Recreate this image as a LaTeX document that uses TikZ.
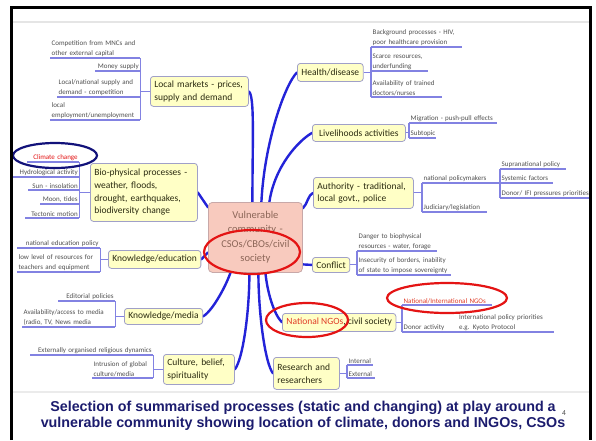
\documentclass[tikz,border=0pt]{standalone}
\usepackage{fontspec}
\setmainfont{Carlito}
\newfontfamily\capfont{Liberation Sans}
\usetikzlibrary{shapes.geometric}
\definecolor{topicfill}{HTML}{FFFFC6}
\definecolor{topicdraw}{HTML}{A0A0C8}
\definecolor{topictext}{HTML}{2A2A10}
\definecolor{centerfill}{HTML}{F8CABE}
\definecolor{centerdraw}{HTML}{C8A8A8}
\definecolor{centertext}{HTML}{8C6658}
\definecolor{connblue}{HTML}{2323D8}
\definecolor{subblue}{HTML}{8282E2}
\definecolor{subtext}{HTML}{505050}
\definecolor{ringred}{HTML}{E41414}
\definecolor{ringnavy}{HTML}{12127A}
\definecolor{captext}{HTML}{1C1C6E}
\definecolor{ngored}{HTML}{E03C28}
\pgfdeclarelayer{bg}
\pgfsetlayers{bg,main}
\begin{document}
\begin{tikzpicture}[x=1pt,y=-1pt,
 topic/.style={draw=topicdraw, fill=topicfill, line width=0.8pt, rounded corners=3pt, inner xsep=4pt, inner ysep=1pt, anchor=north west, align=left, text=topictext, font=\fontsize{9.5}{12.7}\selectfont},
 subline/.style={draw=subblue, line width=1.1pt},
 sub/.style={inner xsep=1.5pt, inner ysep=1pt, anchor=south west, text=subtext, font=\fontsize{7}{10}\selectfont, append after command={(\tikzlastnode.south west) edge[subline] (\tikzlastnode.south east)}},
 conn/.style={draw=connblue, line width=2.4pt, line cap=round},
 ring/.style={draw=ringred, line width=2.2pt, ellipse, inner sep=0pt},
]
\useasboundingbox (0,0) rectangle (596,440);

% main topics
\node[topic, text width=90pt, minimum height=30pt] (local) at (150,76) {Local markets - prices,\\supply and demand};
\node[topic, minimum width=65pt, minimum height=18pt, align=center] (health) at (297,63) {Health/disease};
\node[topic, minimum width=93pt, minimum height=17pt, align=center] (liveli) at (312,124) {Livelihoods activities};
\node[topic, text width=92pt, minimum height=31pt] (auth) at (313,177) {Authority - traditional,\\local govt., police};
\node[topic, text width=99pt, minimum height=58pt] (bio) at (90,163) {Bio-physical processes -\\weather, floods,\\drought, earthquakes,\\biodiversity change};
\node[topic, minimum width=92pt, minimum height=18pt, align=center] (kedu) at (108,250) {Knowledge/education};
\node[topic, minimum width=34pt, minimum height=15pt, align=center] (conflict) at (312,257) {Conflict};
\node[topic, minimum width=73pt, minimum height=16pt, align=center] (kmedia) at (124,308) {Knowledge/media};
\node[topic, minimum width=110pt, minimum height=18pt, align=center] (ngo) at (282,313) {\textcolor{ngored}{National NGOs}, civil society};
\node[topic, text width=63pt, minimum height=30pt] (culture) at (163,354) {Culture, belief,\\spirituality};
\node[topic, text width=58pt, minimum height=32pt] (research) at (273,357) {Research and\\researchers};
\node[draw=centerdraw, fill=centerfill, line width=0.8pt, rounded corners=4pt, anchor=north west, text width=86pt, inner xsep=4pt, align=center, minimum height=70pt, text=centertext, font=\fontsize{10.5}{14.5}\selectfont] (center) at (208,202) {Vulnerable\\community -\\CSOs/CBOs/civil\\society};

% main connectors (behind the nodes)
\begin{pgfonlayer}{bg}
\fill[white] (0,0) rectangle (596,440);
\draw[conn] (local.east) .. controls +(6,4) and +(0,-60) .. ([xshift=-3pt]center.north);
\draw[conn] (health.west) .. controls +(-12,12) and +(3,-60) .. ([xshift=6pt]center.north);
\draw[conn] (liveli.west) .. controls +(-14,8) and +(5,-35) .. ([xshift=14pt]center.north);
\draw[conn] (auth.west) .. controls +(-5,2) and +(5,-5) .. ([yshift=29pt]center.east);
\draw[conn] (conflict.west) -- ([yshift=-27pt]center.east);
\draw[conn] (ngo.west) .. controls +(-8,-8) and +(2,20) .. ([xshift=10pt]center.south);
\draw[conn] (research.west) .. controls +(-8,-10) and +(0,40) .. ([xshift=3pt]center.south);
\draw[conn] (culture.east) .. controls +(8,-10) and +(0,40) .. ([xshift=-6pt]center.south);
\draw[conn] (kmedia.east) .. controls +(10,-6) and +(-4,12) .. ([xshift=-25pt]center.south);
\draw[conn] (kedu.east) -- ([yshift=-15pt]center.west);
\draw[conn] (bio.east) -- ([yshift=30pt]center.west);
\end{pgfonlayer}

% local markets
\node[sub, text width=87pt, align=left] (m1) at (50,58) {Competition from MNCs and\\other external capital};
\node[sub, text width=42pt, align=right] (m2) at (95,71) {Money supply};
\node[sub, text width=80pt, align=left] (m3) at (57,97) {Local/national supply and\\demand - competition};
\node[sub, text width=87pt, align=left] (m4) at (50,120) {local\\employment/unemployment};
\draw[subline] (m1.south east) -- (m4.south east);
\draw[subline] (local.west) -- (local.west -| m1.south east);

% health
\node[sub, text width=88pt, align=left] (h1) at (371,47) {Background processes - HIV,\\poor healthcare provision};
\node[sub, text width=54pt, align=left] (h2) at (371,71) {Scarce resources,\\underfunding};
\node[sub, text width=68pt, align=left] (h3) at (371,97) {Availability of trained\\doctors/nurses};
\draw[subline] (h1.south west) -- (h3.south west);
\draw[subline] (health.east) -- (health.east -| h1.south west);

% livelihoods
\node[sub, text width=85pt, align=left] (l1) at (409,123) {Migration - push-pull effects};
\node[sub, text width=24pt, align=left] (l2) at (409,138) {Subtopic};
\draw[subline] (l1.south west) -- (l2.south west);
\draw[subline] (liveli.east) -- (liveli.east -| l1.south west);

% authority
\node[sub, text width=75pt, align=left] (a1) at (422,183) {national policymakers};
\node[sub, text width=62pt, align=left] (a2) at (422,212) {Judiciary/legislation};
\node[sub, text width=63pt, align=left] (a11) at (500,169) {Supranational policy};
\node[sub, text width=50pt, align=left] (a12) at (500,183) {Systemic factors};
\node[sub, text width=88pt, align=left] (a13) at (500,198) {Donor/ IFI pressures priorities};
\draw[subline] (a1.south west) -- (a2.south west);
\draw[subline] (a11.south west) -- (a13.south west);
\draw[subline] (auth.east) -- (auth.east -| a1.south west);

% conflict
\node[sub, text width=77pt, align=left] (c1) at (357,251) {Danger to biophysical\\resources - water, forage};
\node[sub, text width=91pt, align=left] (c2) at (357,275) {Insecurity of borders, inability\\of state to impose sovereignty};
\draw[subline] (c1.south west) -- (c2.south west);
\draw[subline] (conflict.east) -- (conflict.east -| c1.south west);

% NGOs
\node[sub, text width=87pt, align=left, text=ngored] (n1) at (402,305) {National/International NGOs};
\node[sub, text width=52pt, align=left] (n2) at (402,332) {Donor activity};
\node[sub, text width=93pt, align=left] (n3) at (n2.south east) {International policy priorities\\e.g. Kyoto Protocol};
\draw[subline] (n1.south west) -- (n2.south west);
\draw[subline] (ngo.east) -- (ngo.east -| n1.south west);

% research
\node[sub, text width=23pt, align=left] (r1) at (347,365) {Internal};
\node[sub, text width=25pt, align=left] (r2) at (347,378) {External};
\draw[subline] (r1.south west) -- (r2.south west);
\draw[subline] (research.east) -- (research.east -| r1.south west);

% bio-physical
\node[sub, text width=49pt, align=right, text=ringred] (b1) at (27,162) {Climate change};
\node[sub, text width=63pt, align=right] (b2) at (13,177) {Hydrological activity};
\node[sub, text width=48pt, align=right] (b3) at (28,190) {Sun - insolation};
\node[sub, text width=36pt, align=right] (b4) at (40,204) {Moon, tides};
\node[sub, text width=51pt, align=right] (b5) at (25,218) {Tectonic motion};
\draw[subline] (b1.south east) -- (b5.south east);
\draw[subline] (bio.west) -- (bio.west -| b1.south east);

% knowledge/education
\node[sub, text width=80pt, align=right] (e1) at (17,248) {national education policy};
\node[sub, text width=80pt, align=left] (e2) at (17,272) {low level of resources for\\teachers and equipment};
\draw[subline] (e1.south east) -- (e2.south east);
\draw[subline] (kedu.west) -- (kedu.west -| e1.south east);

% knowledge/media
\node[sub, text width=54pt, align=right] (k1) at (58,301) {Editorial policies};
\node[sub, text width=90pt, align=left] (k2) at (22,327) {Availability/access to media\\(radio, TV, News media};
\draw[subline] (k1.south east) -- (k2.south east);
\draw[subline] (kmedia.west) -- (kmedia.west -| k1.south east);

% culture
\node[sub, text width=120pt, align=right] (u1) at (30,355) {Externally organised religious dynamics};
\node[sub, text width=58pt, align=left] (u2) at (92,378) {Intrusion of global\\culture/media};
\draw[subline] (u1.south east) -- (u2.south east);
\draw[subline] (culture.west) -- (culture.west -| u1.south east);

% highlight rings
\node[ring, minimum width=96pt, minimum height=44pt] (ringc) at (252,252) {};
\node[ring, minimum width=82pt, minimum height=34pt] (ringn) at (307,320) {};
\node[ring, minimum width=120pt, minimum height=30pt] (ringi) at (447,298) {};
\node[ring, draw=ringnavy, minimum width=84pt, minimum height=25pt] (ringb) at (55,155.5) {};

% slide frame
\draw[black!10, line width=1.5pt] (13,22) -- (589,22);
\draw[black!8, line width=1.5pt] (13,392) -- (589,392);
\draw[black, line width=3pt] (11.5,440) -- (11.5,7.5) -- (590.5,7.5) -- (590.5,440);

% caption
\node[font=\capfont\bfseries\fontsize{14.3}{15.5}\selectfont, text=captext, align=center] (caption) at (303,416) {Selection of summarised processes (static and changing) at play around a\\vulnerable community showing location of climate, donors and INGOs, CSOs};
\node[font=\capfont\fontsize{7}{8}\selectfont, text=black!70, inner sep=0.5pt] (pnum) at (564,413) {4};
\end{tikzpicture}
\end{document}
